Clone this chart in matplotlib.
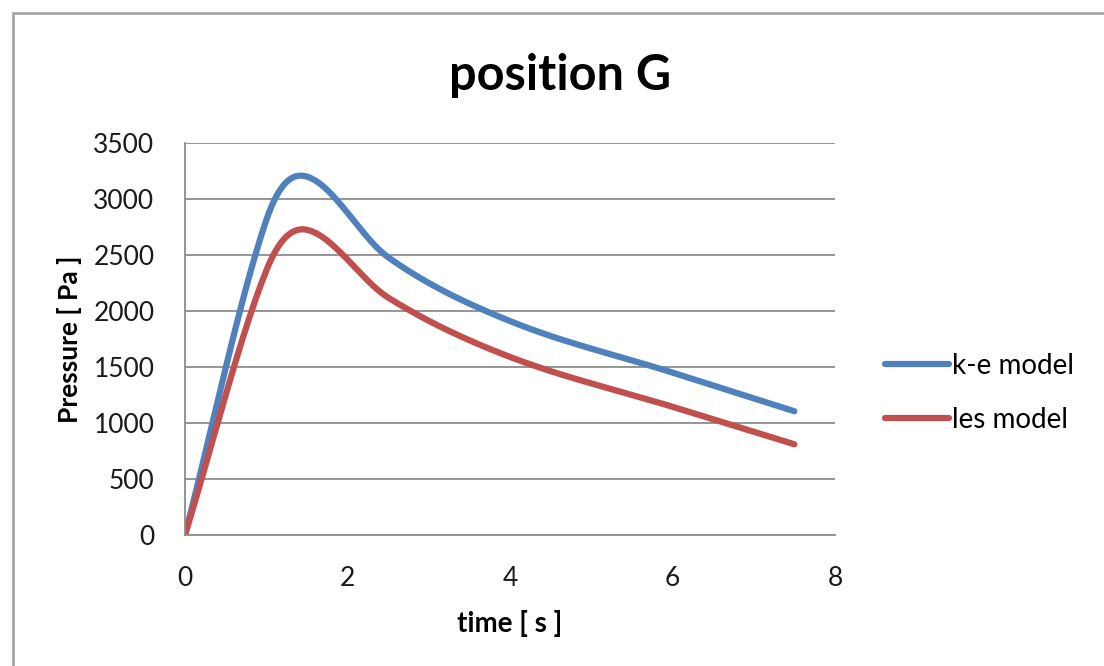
import matplotlib.pyplot as plt
import numpy as np
from matplotlib.patches import Rectangle

# sample times [s] and pressures [Pa] for both turbulence models
time_s = [0, 1, 1.5, 2.5, 4, 6, 7.5]
ke_model = [0, 2810, 3200, 2480, 1910, 1450, 1105]
les_model = [0, 2360, 2725, 2120, 1590, 1145, 810]
series_names = ['k-e model', 'les model']
series_colors = ['#4F81BD', '#C0504D']

y_ticks = [0, 500, 1000, 1500, 2000, 2500, 3000, 3500]
x_ticks = [0, 2, 4, 6, 8]


def smooth(xs, ys, n=60):
    # smoothed line: cubic Hermite through every point, finite-difference slopes
    x = np.asarray(xs, float)
    y = np.asarray(ys, float)
    m = np.empty_like(y)
    m[1:-1] = (y[2:] - y[:-2]) / (x[2:] - x[:-2])
    m[0] = (y[1] - y[0]) / (x[1] - x[0])
    m[-1] = (y[-1] - y[-2]) / (x[-1] - x[-2])
    px, py = [], []
    for i in range(len(x) - 1):
        h = x[i + 1] - x[i]
        t = np.linspace(0, 1, n)[(0 if i == 0 else 1):]
        h00 = 2 * t ** 3 - 3 * t ** 2 + 1
        h10 = t ** 3 - 2 * t ** 2 + t
        h01 = -2 * t ** 3 + 3 * t ** 2
        h11 = t ** 3 - t ** 2
        px.append(x[i] + t * h)
        py.append(h00 * y[i] + h10 * h * m[i] + h01 * y[i + 1] + h11 * h * m[i + 1])
    return np.concatenate(px), np.concatenate(py)


plt.rcParams['font.family'] = ['Lato', 'DejaVu Sans']

fig = plt.figure(figsize=(11.04, 6.66), dpi=100)
fig.patches.append(Rectangle((13 / 1104, -0.1), 1.2, 1 - 13 / 666 + 0.1,
                             transform=fig.transFigure, fill=False,
                             edgecolor='#a6a6a6', linewidth=2))

ax = fig.add_axes([185 / 1104, 1 - 535 / 666, 650 / 1104, 392 / 666])

for vals, name, col in zip([ke_model, les_model], series_names, series_colors):
    sx, sy = smooth(time_s, vals)
    ax.plot(sx, sy, color=col, linewidth=4.5, solid_capstyle='round', label=name)

ax.set_xlim(0, 8)
ax.set_ylim(0, 3500)
ax.set_xticks(x_ticks)
ax.set_yticks(y_ticks)
ax.grid(axis='y', color='#8c8c8c', linewidth=1.3)
ax.set_axisbelow(True)
for s in ['top', 'right']:
    ax.spines[s].set_visible(False)
for s in ['left', 'bottom']:
    ax.spines[s].set_color('#8c8c8c')
    ax.spines[s].set_linewidth(1.3)
ax.tick_params(axis='both', length=0, labelsize=19, colors='#1a1a1a')
ax.tick_params(axis='y', pad=22)
ax.tick_params(axis='x', pad=22)

fig.text(560 / 1104, 1 - 76 / 666, 'position G', fontsize=35, fontweight='bold',
         ha='center', va='center')
ax.set_xlabel('time [ s ]', fontsize=20, fontweight='bold', labelpad=14)
ax.set_ylabel('Pressure [ Pa ]', fontsize=19, fontweight='bold', labelpad=8)

ax.legend(loc='center left', bbox_to_anchor=(885 / 1104, 1 - 393 / 666),
          bbox_transform=fig.transFigure, frameon=False, borderpad=0,
          borderaxespad=0, fontsize=20, handlelength=2.3, handletextpad=0.1,
          labelspacing=1.0)

fig.savefig('out.png', dpi=100)
